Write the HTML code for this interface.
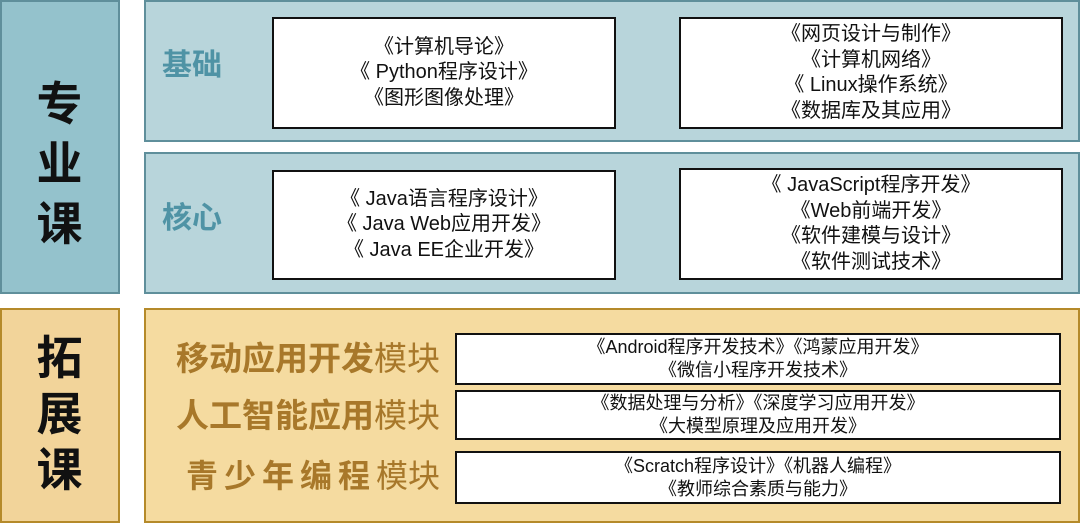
<!DOCTYPE html>
<html><head><meta charset="utf-8"><style>
body{margin:0;width:1080px;height:523px;background:#fff;position:relative;overflow:hidden;font-family:"Liberation Sans","Noto Sans CJK SC",sans-serif}
div{position:absolute;box-sizing:border-box}
.t{background:#b8d5db;border:2px solid #5f8f9b}
.o{background:#f5dba0;border:2px solid #b58a2a}
.w{background:#fff;border:2px solid #111;display:flex;flex-direction:column;justify-content:center;align-items:center;text-align:center;color:#111;font-size:20px;line-height:25.5px}
.s{font-size:18px;line-height:23px}
.big{font-size:46px;font-weight:bold;color:#111;line-height:60px;text-align:center;width:119px;left:0}
.lab{font-size:30px;font-weight:bold;color:#4f93a5}
.ol{font-size:33px;color:#a8782a;white-space:nowrap;text-align:right;line-height:40px}
.ol b{font-weight:bold}
</style></head><body>
<div style="left:0;top:0;width:120px;height:294px;background:#94c2cc;border:2px solid #5f8f9b"></div>
<div class="big" style="top:74px">专<br>业<br>课</div>
<div class="t" style="left:144px;top:0;width:936px;height:142px"></div>
<div class="t" style="left:144px;top:152px;width:936px;height:142px"></div>
<div class="lab" style="left:162px;top:40px">基础</div>
<div class="lab" style="left:162px;top:193px">核心</div>
<div class="w" style="left:272px;top:17px;width:344px;height:112px">《计算机导论》<br>《 Python程序设计》<br>《图形图像处理》</div>
<div class="w" style="left:679px;top:17px;width:384px;height:112px">《网页设计与制作》<br>《计算机网络》<br>《 Linux操作系统》<br>《数据库及其应用》</div>
<div class="w" style="left:272px;top:170px;width:344px;height:110px">《 Java语言程序设计》<br>《 Java Web应用开发》<br>《 Java EE企业开发》</div>
<div class="w" style="left:679px;top:168px;width:384px;height:112px">《 JavaScript程序开发》<br>《Web前端开发》<br>《软件建模与设计》<br>《软件测试技术》</div>

<div style="left:0;top:308px;width:120px;height:215px;background:#f2d49a;border:2px solid #b58a2a"></div>
<div class="big" style="top:330px;line-height:56px">拓<br>展<br>课</div>
<div class="o" style="left:144px;top:308px;width:936px;height:215px"></div>
<div class="ol" style="left:150px;width:290px;top:339px"><b>移动应用开发</b>模块</div>
<div class="ol" style="left:150px;width:290px;top:396px"><b>人工智能应用</b>模块</div>
<div class="ol" style="left:150px;width:290px;top:456px;font-size:32px"><b style="letter-spacing:6px">青少年编程</b>模块</div>
<div class="w s" style="left:455px;top:333px;width:606px;height:52px">《Android程序开发技术》《鸿蒙应用开发》<br>《微信小程序开发技术》</div>
<div class="w s" style="left:455px;top:390px;width:606px;height:50px">《数据处理与分析》《深度学习应用开发》<br>《大模型原理及应用开发》</div>
<div class="w s" style="left:455px;top:451px;width:606px;height:53px">《Scratch程序设计》《机器人编程》<br>《教师综合素质与能力》</div>
</body></html>
